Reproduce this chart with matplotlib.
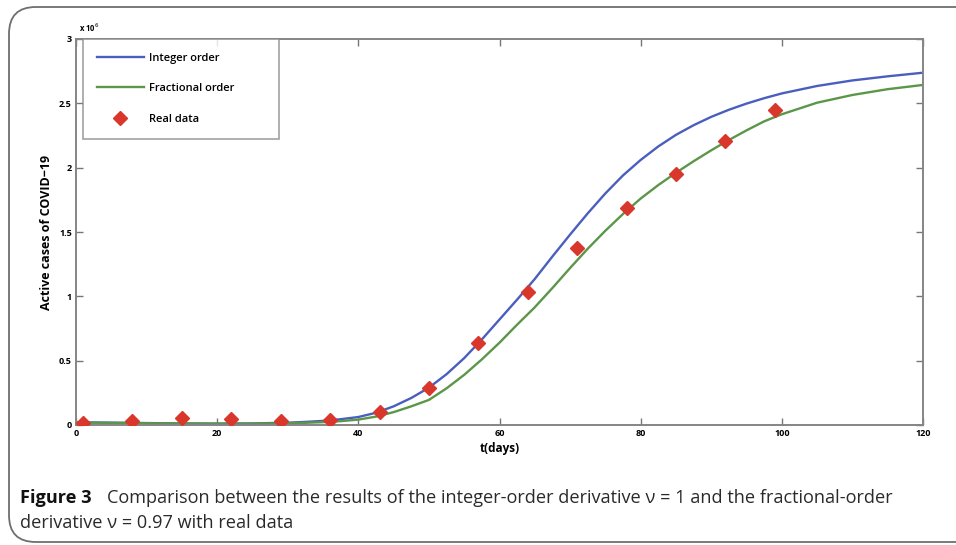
import matplotlib
matplotlib.use("Agg")
import matplotlib.pyplot as plt
from matplotlib.patches import FancyBboxPatch
from matplotlib.ticker import FuncFormatter

# ---------------- data ----------------
days_curve = [0, 5, 10, 15, 20, 25, 30, 32.5, 35, 37.5, 40, 42.5, 45, 47.5, 50,
              52.5, 55, 57.5, 60, 62.5, 65, 67.5, 70, 72.5, 75, 77.5, 80, 82.5,
              85, 87.5, 90, 92.5, 95, 97.5, 100, 105, 110, 115, 120]
integer_order = [21e3, 18e3, 15e3, 12e3, 11e3, 12e3, 18e3, 24e3, 32e3, 45e3,
                 62e3, 95e3, 145e3, 210e3, 290e3, 395e3, 520e3, 665e3, 820e3,
                 975e3, 1.135e6, 1.31e6, 1.48e6, 1.645e6, 1.80e6, 1.94e6,
                 2.06e6, 2.165e6, 2.255e6, 2.33e6, 2.395e6, 2.45e6, 2.498e6,
                 2.54e6, 2.577e6, 2.635e6, 2.678e6, 2.71e6, 2.738e6]
fractional_order = [20e3, 17e3, 14e3, 11e3, 10e3, 10e3, 14e3, 17e3, 22e3, 30e3,
                    42e3, 65e3, 100e3, 145e3, 195e3, 285e3, 390e3, 510e3, 640e3,
                    780e3, 915e3, 1.065e6, 1.22e6, 1.37e6, 1.51e6, 1.64e6,
                    1.76e6, 1.865e6, 1.96e6, 2.05e6, 2.135e6, 2.215e6, 2.29e6,
                    2.36e6, 2.415e6, 2.505e6, 2.565e6, 2.61e6, 2.643e6]

days_real = [1, 8, 15, 22, 29, 36, 43, 50, 57, 64, 71, 78, 85, 92, 99]
real_data = [18e3, 31e3, 52e3, 47e3, 31e3, 39e3, 99e3, 285e3, 635e3, 1.036e6,
             1.378e6, 1.684e6, 1.951e6, 2.21e6, 2.448e6]

x_ticks = [0, 20, 40, 60, 80, 100, 120]
y_ticks = [0, 0.5e6, 1e6, 1.5e6, 2e6, 2.5e6, 3e6]

FONT = "Open Sans"

# ---------------- figure ----------------
W, H = 956, 545
fig = plt.figure(figsize=(W / 100, H / 100), dpi=100)
fig.patch.set_facecolor("white")

def fx(px):
    return px / W

def fy(py):
    return 1 - py / H

# outer rounded frame (extends past the right edge)
frame = FancyBboxPatch((fx(9), fy(542)), fx(1100) - fx(9), fy(7) - fy(542),
                       boxstyle="round,pad=0,rounding_size=0.028",
                       transform=fig.transFigure, facecolor="none",
                       edgecolor="#6e6e6e", linewidth=1.3, clip_on=False,
                       mutation_aspect=W / H)
fig.patches.append(frame)

ax_l, ax_r, ax_t, ax_b = 76, 923, 39, 425
ax = fig.add_axes([fx(ax_l), fy(ax_b), fx(ax_r) - fx(ax_l), fy(ax_t) - fy(ax_b)])

blue = "#4a5fbd"
green = "#5b9649"
red = "#d9372b"

ax.plot(days_curve, integer_order, color=blue, lw=1.7, label="Integer order", zorder=2)
ax.plot(days_curve, fractional_order, color=green, lw=1.7, label="Fractional order", zorder=2)
ax.plot(days_real, real_data, linestyle="none", marker="D", markersize=7,
        color=red, markeredgecolor=red, label="Real data", zorder=3)

ax.set_xlim(0, 120)
ax.set_ylim(0, 3e6)
ax.set_xticks(x_ticks)
ax.set_yticks(y_ticks)
ax.yaxis.set_major_formatter(FuncFormatter(lambda v, p: f"{v/1e6:g}"))

spine_c = "#858585"
for s in ax.spines.values():
    s.set_color(spine_c)
    s.set_linewidth(1.4)
ax.tick_params(direction="in", length=5, width=1.0, color="#777777",
               top=True, right=True, labelsize=6.5, pad=3)
for lab in ax.get_xticklabels() + ax.get_yticklabels():
    lab.set_fontweight("bold")
    lab.set_family(FONT)

ax.set_xlabel("t(days)", fontsize=8.5, fontweight="bold", family=FONT, labelpad=3)
ax.set_ylabel("Active cases of COVID\u221219", fontsize=9, fontweight="bold",
              family=FONT, labelpad=4)

ax.text(0.004, 1.012, r"x 10$^{6}$", transform=ax.transAxes, fontsize=5.5,
        fontweight="bold", family=FONT, ha="left", va="bottom")

leg = ax.legend(loc="upper left", bbox_to_anchor=(0.0083, 0.0, 0.2314, 1.0),
                mode="expand",
                prop={"family": FONT, "weight": "semibold", "size": 8},
                frameon=True, fancybox=False, edgecolor="#8a8a8a",
                handlelength=4.2, labelspacing=1.75, borderpad=1.25,
                handletextpad=0.5, borderaxespad=0, markerscale=1.0)
leg.get_frame().set_linewidth(1.2)

# caption
cap_c = "#2a2a2a"
fig.text(fx(20), fy(503), "Figure 3", fontsize=13.1, fontweight="bold",
         family=FONT, ha="left", va="baseline", color="#111111")
fig.text(fx(107), fy(503),
         "Comparison between the results of the integer-order derivative \u03bd = 1 and the fractional-order",
         fontsize=13.1, family=FONT, ha="left", va="baseline", color=cap_c)
fig.text(fx(20), fy(528), "derivative \u03bd = 0.97 with real data",
         fontsize=13.1, family=FONT, ha="left", va="baseline", color=cap_c)

fig.savefig("out.png", dpi=100)
